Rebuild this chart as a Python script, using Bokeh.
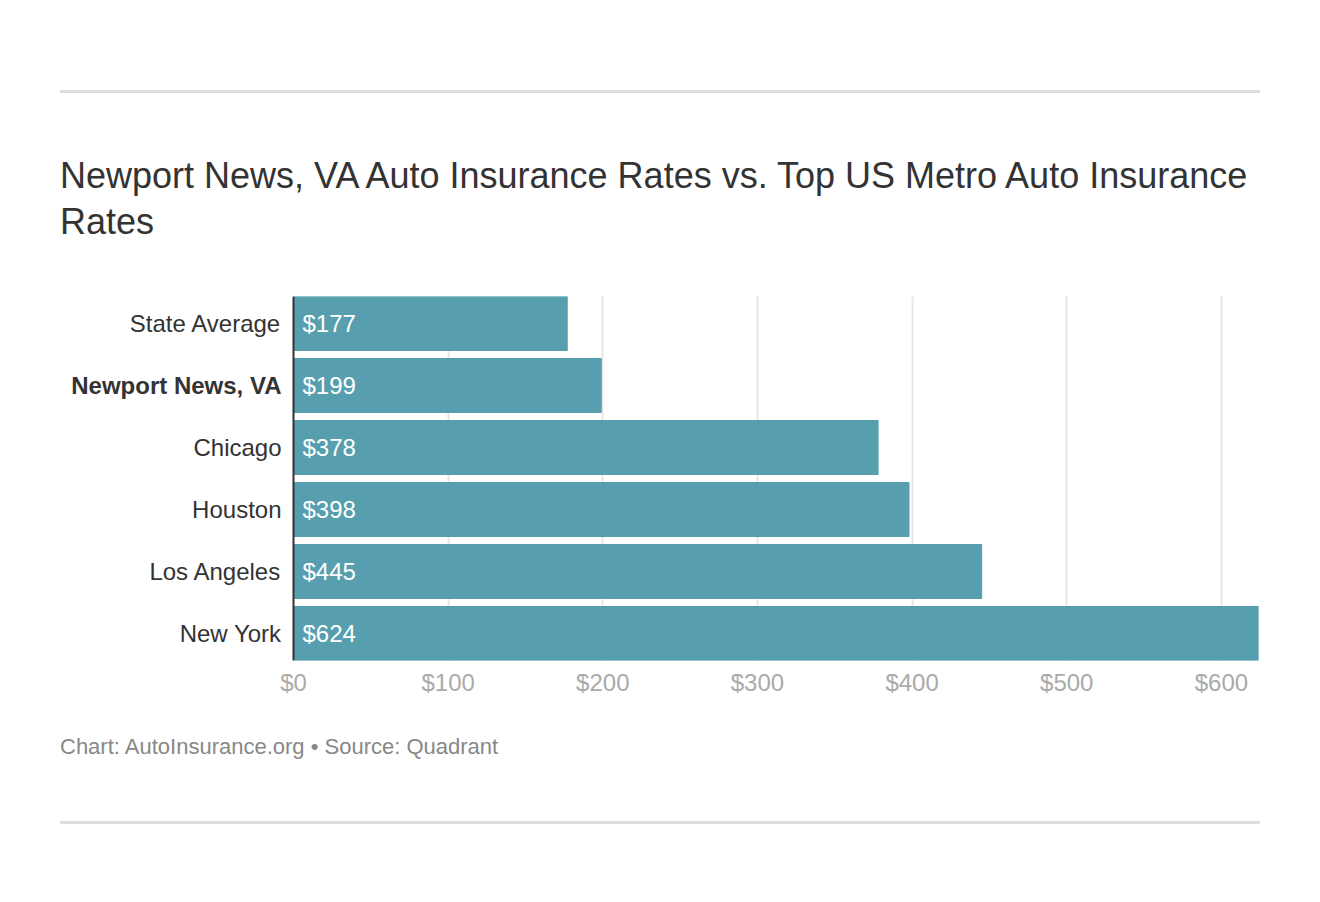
from bokeh.plotting import figure
from bokeh.models import Range1d, FixedTicker, NumeralTickFormatter, Div, ColumnDataSource
from bokeh.layouts import column
from bokeh.core.properties import value
from bokeh.embed import file_html
from bokeh.resources import INLINE

# ---- data ----
categories = ["State Average", "Newport News, VA", "Chicago", "Houston", "Los Angeles", "New York"]
rates = [177, 199, 378, 398, 445, 624]
x_ticks = [0, 100, 200, 300, 400, 500, 600]
x_max = 624
highlight = "Newport News, VA"
title_text = "Newport News, VA Auto Insurance Rates vs. Top US Metro Auto Insurance Rates"
footer_text = "Chart: AutoInsurance.org \u2022 Source: Quadrant"

FONT = "Liberation Sans"
BAR = "#579FAE"

n = len(categories)
ypos = [n - 1 - i for i in range(n)]
src = ColumnDataSource(dict(
    y=ypos,
    v=rates,
    lab=["$%d" % r for r in rates],
    cat=categories,
    style=["bold" if c == highlight else "normal" for c in categories],
))

# layout constants (pixels)
band = 62.0
bar_px = 54.0
frame_h = 364
bar_area_px = 965      # width of the value area
label_area_px = 273    # room for category labels, left of the value axis
B_LEFT, B_RIGHT, B_TOP, B_BOT = 20, 12, 26, 50

pad = (frame_h / band - (n - 1)) / 2.0
x_start = -label_area_px * x_max / bar_area_px

p = figure(width=B_LEFT + label_area_px + bar_area_px + B_RIGHT,
           height=B_TOP + frame_h + B_BOT,
           output_backend="svg", toolbar_location=None,
           x_range=Range1d(x_start, x_max), y_range=Range1d(-pad, (n - 1) + pad),
           y_axis_location=None,
           min_border_left=B_LEFT, min_border_right=B_RIGHT,
           min_border_top=B_TOP, min_border_bottom=B_BOT)
p.outline_line_color = None

p.hbar(y="y", right="v", left=0, height=bar_px / band, color=BAR, source=src)
# value axis line
p.segment(x0=0, x1=0, y0=-pad, y1=(n - 1) + pad, line_color="#333333", line_width=2)
# value labels inside bars
p.text(x=0, y="y", text="lab", source=src, x_offset=9, text_baseline="middle",
       text_color="white", text_font_size="24px", text_font=value(FONT))
# category labels
p.text(x=0, y="y", text="cat", source=src, x_offset=-12, text_align="right",
       text_baseline="middle", text_color="#333333", text_font_size="24px",
       text_font=value(FONT), text_font_style="style")

p.xaxis.ticker = FixedTicker(ticks=x_ticks)
p.xaxis.formatter = NumeralTickFormatter(format="$0")
p.xaxis.axis_line_color = None
p.xaxis.major_tick_line_color = None
p.xaxis.minor_tick_line_color = None
p.xaxis.major_label_text_color = "#aaaaaa"
p.xaxis.major_label_text_font = FONT
p.xaxis.major_label_text_font_size = "24px"
p.xaxis.major_label_standoff = 2

p.xgrid.ticker = FixedTicker(ticks=x_ticks[1:])
p.xgrid.grid_line_color = "#e6e6e6"
p.xgrid.grid_line_width = 2
p.ygrid.grid_line_color = None

top = Div(width=1320, height=270, margin=0, text=(
    '<div style="margin-left:60px;width:1200px;">'
    '<div style="height:90px"></div>'
    '<div style="height:3px;background:#dddddd"></div>'
    '<div style="margin-top:60px;font-family:\'Liberation Sans\';font-size:36px;line-height:46px;color:#333333">'
    + title_text + '</div></div>'))

bottom = Div(width=1320, height=130, margin=0, text=(
    '<div style="margin-left:60px;width:1200px;">'
    '<div style="height:24px"></div>'
    '<div style="font-family:\'Liberation Sans\';font-size:22px;line-height:26px;height:26px;color:#888888">'
    + footer_text + '</div>'
    '<div style="height:61px"></div>'
    '<div style="height:3px;background:#dddddd"></div>'
    '</div>'))

layout = column(top, p, bottom)
open("out.html", "w").write(file_html(layout, INLINE))
